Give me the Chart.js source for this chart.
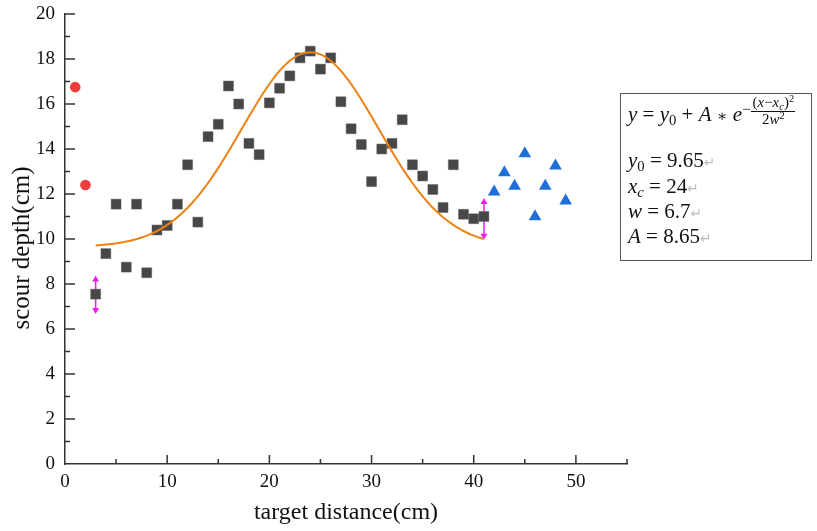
<!DOCTYPE html>
<html>
<head>
<meta charset="utf-8">
<title>scour depth vs target distance</title>
<script src="https://cdn.jsdelivr.net/npm/chart.js@4.4.1/dist/chart.umd.min.js"></script>
<style>
  body { margin: 0; background: #fff; }
  #wrap { position: relative; width: 817px; height: 531px; }
  #fitBox {
    position: absolute; left: 620px; top: 93px; width: 192px; height: 168px;
    border: 1px solid #555; box-sizing: border-box;
    font-family: "Liberation Serif", serif; color: #111; font-size: 21px;
  }
  #fitBox .row { position: absolute; left: 7px; line-height: 21px; white-space: nowrap; }
  #fitBox sub { font-size: 0.7em; line-height: 0; vertical-align: -0.28em; font-style: normal; }
  #fitBox sub i, #fitBox i sub { font-style: italic; }
  #fitBox sup { font-size: 0.7em; line-height: 0; vertical-align: 0.45em; }
  #fitBox .op { font-size: 0.75em; font-family: "DejaVu Serif", serif; }
  #fitBox .ret { color: #bbb; font-size: 0.65em; font-family: "DejaVu Sans", sans-serif; }
  #fitBox .exp { font-size: 15px; line-height: 15px; }
  #fitBox .frac { display: inline-block; vertical-align: middle; text-align: center; margin-left: 1px; }
  #fitBox .num { display: block; border-bottom: 1px solid #111; padding: 0 1px 1px; }
  #fitBox .den { display: block; padding-top: 0; }
</style>
</head>
<body>
<div id="wrap">
  <canvas id="chart" width="817" height="531"></canvas>
  <div id="fitBox">
    <div class="row" style="top:10px"><i>y</i> = <i>y</i><sub>0</sub> + <i>A</i> <span class="op">∗</span> <i>e</i></div>
    <div class="row exp" style="left:121px; top:1px">−<span class="frac"><span class="num">(<i>x</i>−<i>x<sub>c</sub></i>)<sup>2</sup></span><span class="den">2<i>w</i><sup>2</sup></span></span></div>
    <div class="row" style="top:56px"><i>y</i><sub>0</sub> = <span id="vY0"></span><span class="ret">↵</span></div>
    <div class="row" style="top:82px"><i>x<sub>c</sub></i> = <span id="vXc"></span><span class="ret">↵</span></div>
    <div class="row" style="top:107px"><i>w</i> = <span id="vW"></span><span class="ret">↵</span></div>
    <div class="row" style="top:132px"><i>A</i> = <span id="vA"></span><span class="ret">↵</span></div>
  </div>
</div>
<script>
// measured points, three groups
const circleX = [1, 2];
const circleY = [16.75, 12.4];

const squareX = [3, 4, 5, 6, 7, 8, 9, 10, 11, 12, 13, 14, 15, 16, 17, 18, 19, 20, 21, 22,
                 23, 24, 25, 26, 27, 28, 29, 30, 31, 32, 33, 34, 35, 36, 37, 38, 39, 40, 41];
const squareY = [7.55, 9.35, 11.55, 8.75, 11.55, 8.5, 10.4, 10.6, 11.55, 13.3, 10.75, 14.55, 15.1, 16.8,
                 16.0, 14.25, 13.75, 16.05, 16.7, 17.25, 18.05, 18.35, 17.55, 18.05, 16.1, 14.9, 14.2,
                 12.55, 14.0, 14.25, 15.3, 13.3, 12.8, 12.2, 11.4, 13.3, 11.1, 10.9, 11.0];

const triangleX = [42, 43, 44, 45, 46, 47, 48, 49];
const triangleY = [12.1, 12.95, 12.35, 13.8, 11.0, 12.35, 13.25, 11.7];

// gaussian fit parameters (y = y0 + A*exp(-(x-xc)^2 / (2w^2)))
const fitY0 = 9.65;
const fitXc = 24;
const fitW = 6.7;
const fitA = 8.65;
const fitFrom = 3;
const fitTo = 41;

// double arrows at both ends of the fit
const arrowX = [3, 41];
const arrowTop = [8.2, 11.65];
const arrowBottom = [6.85, 10.15];

const xMax = 55, xStep = 10, xMinor = 5;
const yMax = 20, yStep = 2, yMinor = 1;
const yTitle = 'scour depth(cm)';

const axisColor = '#333';
const magenta = '#ee1cee';
const serif = '"Liberation Serif", "Times New Roman", serif';

document.getElementById('vY0').textContent = fitY0;
document.getElementById('vXc').textContent = fitXc;
document.getElementById('vW').textContent = fitW;
document.getElementById('vA').textContent = fitA;

const toPoints = (xs, ys) => xs.map((x, i) => ({ x: x, y: ys[i] }));

const fitPoints = [];
for (let x = fitFrom; x <= fitTo + 1e-9; x += 0.25) {
    fitPoints.push({ x: x, y: fitY0 + fitA * Math.exp(-Math.pow(x - fitXc, 2) / (2 * fitW * fitW)) });
}

const arrowSets = arrowX.map((x, i) => ({
    data: [{ x: x, y: arrowTop[i] }, { x: x, y: arrowBottom[i] }],
    showLine: true,
    borderColor: magenta,
    borderWidth: 1.5,
    pointStyle: 'triangle',
    rotation: [0, 180],
    pointRadius: 4,
    pointBackgroundColor: magenta,
    pointBorderWidth: 0,
    order: 3
}));

// tick marks pointing into the plot, major and minor
const inwardTicks = {
    id: 'inwardTicks',
    afterDraw(chart) {
        const { ctx, chartArea, scales: { x, y } } = chart;
        ctx.save();
        ctx.strokeStyle = axisColor;
        ctx.lineWidth = 1.5;
        ctx.beginPath();
        for (let v = xMinor; v <= xMax; v += xMinor) {
            const px = x.getPixelForValue(v);
            const len = v % xStep === 0 ? 9 : 5;
            ctx.moveTo(px, chartArea.bottom);
            ctx.lineTo(px, chartArea.bottom - len);
        }
        for (let v = yMinor; v <= yMax; v += yMinor) {
            const py = y.getPixelForValue(v);
            const len = v % yStep === 0 ? 10 : 5;
            ctx.moveTo(chartArea.left, py);
            ctx.lineTo(chartArea.left + len, py);
        }
        ctx.stroke();
        ctx.restore();
    }
};

// y title sits a little below the middle of the axis
const yAxisTitle = {
    id: 'yAxisTitle',
    afterDraw(chart) {
        const { ctx, scales: { y } } = chart;
        ctx.save();
        ctx.translate(22, y.getPixelForValue(9.6));
        ctx.rotate(-Math.PI / 2);
        ctx.font = '25px ' + serif;
        ctx.fillStyle = '#111';
        ctx.textAlign = 'center';
        ctx.textBaseline = 'middle';
        ctx.fillText(yTitle, 0, 0);
        ctx.restore();
    }
};

new Chart(document.getElementById('chart'), {
    type: 'scatter',
    data: {
        datasets: [
            {
                data: fitPoints,
                showLine: true,
                borderColor: '#ef8113',
                borderWidth: 2,
                pointRadius: 0,
                tension: 0,
                order: 0
            },
            {
                data: toPoints(squareX, squareY),
                pointStyle: 'rect',
                pointRadius: 7,
                backgroundColor: '#474747',
                borderColor: '#5a5a5a',
                borderWidth: 0.5,
                order: 1
            },
            {
                data: toPoints(circleX, circleY),
                pointStyle: 'circle',
                pointRadius: 5.3,
                backgroundColor: '#ef3b3b',
                borderWidth: 0,
                order: 1
            },
            {
                data: toPoints(triangleX, triangleY),
                pointStyle: 'triangle',
                pointRadius: 7.3,
                backgroundColor: '#1f6fd8',
                borderWidth: 0,
                order: 1
            },
            ...arrowSets
        ]
    },
    options: {
        responsive: false,
        devicePixelRatio: 1,
        animation: false,
        layout: { autoPadding: false, padding: { top: 14, right: 190, bottom: 0, left: 0 } },
        plugins: { legend: { display: false }, tooltip: { enabled: false } },
        scales: {
            x: {
                type: 'linear',
                min: 0,
                max: xMax,
                afterFit: s => { s.height = 67; s.paddingLeft = 0; s.paddingRight = 0; },
                grid: { drawOnChartArea: false, drawTicks: false },
                border: { color: axisColor, width: 1.5 },
                ticks: {
                    stepSize: xStep,
                    includeBounds: false,
                    padding: 7,
                    color: '#111',
                    font: { family: serif, size: 19 }
                },
                title: {
                    display: true,
                    text: 'target distance(cm)',
                    color: '#111',
                    padding: { top: 4, bottom: 4 },
                    font: { family: serif, size: 24 }
                }
            },
            y: {
                type: 'linear',
                min: 0,
                max: yMax,
                afterFit: s => { s.width = 65; s.paddingTop = 0; s.paddingBottom = 0; },
                grid: { drawOnChartArea: false, drawTicks: false },
                border: { color: axisColor, width: 1.5 },
                ticks: {
                    stepSize: yStep,
                    padding: 10,
                    color: '#111',
                    font: { family: serif, size: 19 }
                },
                title: { display: false }
            }
        }
    },
    plugins: [inwardTicks, yAxisTitle]
});
</script>
</body>
</html>
